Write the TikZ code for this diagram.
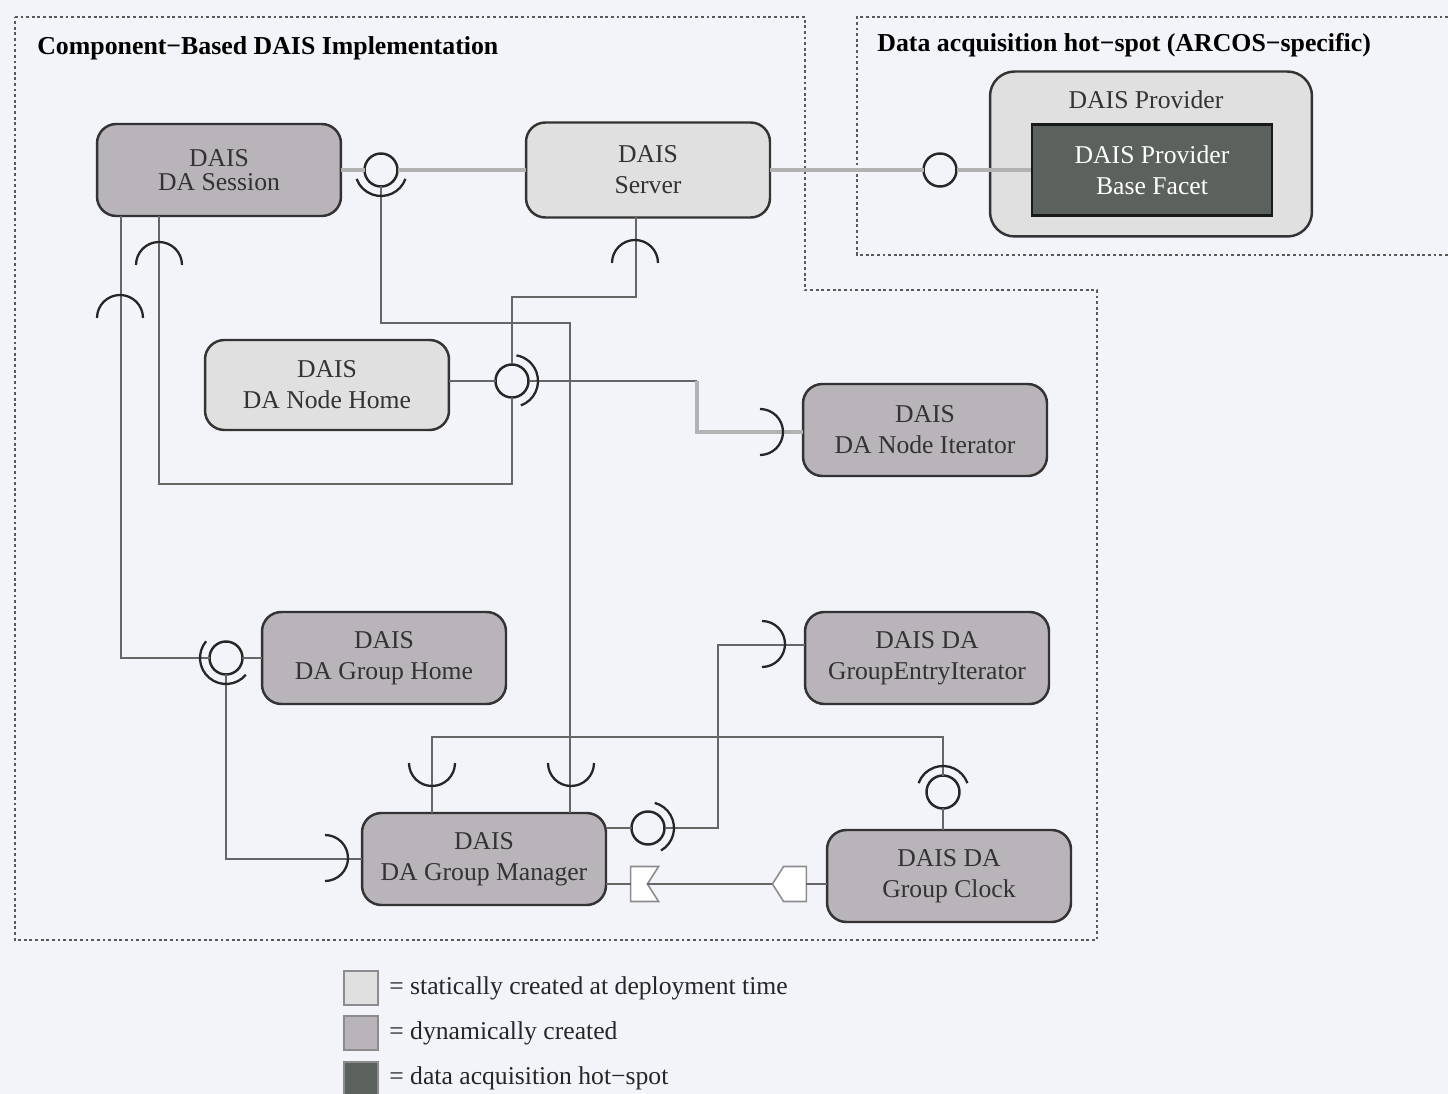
\documentclass[tikz,border=0pt]{standalone}
\usepackage{fontspec}
\setmainfont{Liberation Serif}
\usetikzlibrary{shapes.symbols}
\begin{document}
\begin{tikzpicture}[x=0.02cm,y=-0.02cm,
  comp/.style={draw=black!80,line width=1.4pt,rounded corners=11pt,minimum width=4.88cm,minimum height=1.84cm,
    align=center,inner sep=0pt,outer sep=0pt,text=black!80,font=\fontsize{14.6}{17.6}\selectfont},
  statcomp/.style={comp,fill=kLight},
  dyncomp/.style={comp,fill=kMauve},
  ball/.style={circle,draw=black!85,line width=1.4pt,fill=kBack,minimum size=0.66cm,inner sep=0pt,outer sep=0pt},
  wire/.style={draw=black!60,line width=0.9pt},
  pipe/.style={draw=kPipe,line width=2.2pt},
  sock/.style={draw=black!85,line width=1.3pt},
  evport/.style={signal,draw=black!45,line width=0.9pt,fill=white,minimum height=0.7cm,inner sep=0pt,outer sep=0pt,signal pointer angle=115},
  region/.style={draw=black!65,line width=0.9pt,dash pattern=on 1.6pt off 1.6pt},
  title/.style={anchor=west,inner sep=0pt,font=\bfseries\fontsize{14.7}{16}\selectfont},
  legbox/.style={draw=black!45,line width=1.2pt,minimum size=0.68cm,inner sep=0pt},
  legtext/.style={anchor=west,inner sep=0pt,text=black!85,font=\fontsize{14.6}{16}\selectfont}]
  % colors
  \definecolor{kBack}{HTML}{F3F4F9}
  \definecolor{kLight}{HTML}{E0E0E0}
  \definecolor{kMauve}{HTML}{B9B4B9}
  \definecolor{kHot}{HTML}{5B615C}
  \definecolor{kPipe}{HTML}{B2B2B2}
  \fill[kBack] (0,0) rectangle (1448,1094);
  \useasboundingbox (0,0) rectangle (1448,1094);

  % regions
  \draw[region] (15,17) -- (805,17) -- (805,290) -- (1097,290) -- (1097,940) -- (15,940) -- cycle;
  \draw[region] (1448,17) -- (857,17) -- (857,255) -- (1448,255);
  \node[title] (implTitle) at (37,48) {Component−Based DAIS Implementation};
  \node[title] (hotTitle) at (877,45) {Data acquisition hot−spot (ARCOS−specific)};

  % hot-spot
  \node[statcomp,minimum width=6.44cm,minimum height=3.3cm,rounded corners=14pt] (provider) at (1151,154) {};
  \node[text=black!80,font=\fontsize{14.6}{16}\selectfont] (provLabel) at (1146,100) {DAIS Provider};
  \node[draw=black!90,line width=1.4pt,fill=kHot,minimum width=4.8cm,minimum height=1.82cm,align=center,
    text=white,font=\fontsize{14.6}{17.6}\selectfont] (facet) at (1152,170) {DAIS Provider\\Base Facet};

  % components
  \node[dyncomp] (sess) at (219,170) {DAIS\\[-4pt]DA Session};
  \node[statcomp,minimum height=1.9cm] (server) at (648,170) {DAIS\\Server};
  \node[statcomp,minimum height=1.8cm] (nhome) at (327,385) {DAIS\\DA Node Home};
  \node[dyncomp] (niter) at (925,430) {DAIS\\DA Node Iterator};
  \node[dyncomp] (ghome) at (384,658) {DAIS\\DA Group Home};
  \node[dyncomp] (gei) at (927,658) {DAIS DA\\GroupEntryIterator};
  \node[dyncomp] (gman) at (484,859) {DAIS\\DA Group Manager};
  \node[dyncomp] (gclock) at (949,876) {DAIS DA\\Group Clock};

  % provided interfaces
  \node[ball] (b1) at (381,170) {};
  \node[ball] (b2) at (512,381) {};
  \node[ball] (b3) at (226,658) {};
  \node[ball] (b4) at (648,828) {};
  \node[ball] (b5) at (943,792) {};
  \node[ball] (b6) at (940,170) {};

  % event ports
  \node[evport,minimum width=0.56cm,signal to=nowhere,signal from=east] (sink) at (639,884) {};
  \node[evport,minimum width=0.68cm,signal to=west] (src) at (795,884) {};

  % connectors
  \draw[pipe] (sess) -- (b1) -- (server);
  \draw[pipe] (server) -- (b6) -- (facet);
  \draw[wire] (b1) -- (381,323) -| (gman.north -| 570,0);
  \draw[wire] (sess.south -| 159,0) -- (159,484) -| (b2);
  \draw[wire] (sess.south -| 121,0) |- (b3);
  \draw[wire] (server.south -| 636,0) |- (512,297) -- (b2);
  \draw[wire] (nhome.east |- b2) -- (b2);
  \draw[wire] (b2) -- (697,381);
  \draw[pipe] (697,381) |- (niter.west |- 697,432);
  \draw[wire] (ghome) -- (b3);
  \draw[wire] (b3) |- (gman);
  \draw[wire] (gman.north -| 432,0) |- (943,737) -- (b5);
  \draw[wire] (gclock.north -| b5) -- (b5);
  \draw[wire] (gman.east |- b4) -- (b4);
  \draw[wire] (b4) -| (718,645) -- (gei.west |- 718,645);
  \draw[wire] (gman.east |- sink) -- (sink);
  \draw[wire] (sink) -- (src);
  \draw[wire] (src) -- (gclock.west |- src);

  % sockets
  \foreach \cx/\cy/\a/\b in {159/265/0/-180, 120/318/0/-180, 635/263/0/-180,
      432/763/0/180, 571/763/0/180, 325/858/-90/90, 762/644/-90/90, 760/432/-90/90} {
    \draw[sock] (\cx,\cy) ++(\a:23) arc (\a:\b:23);
  };
  % assembled sockets
  \foreach \cx/\cy/\a/\b in {381/170/20/160, 512/381/70/-80, 226/658/40/220, 648/828/60/-75, 943/792/-20/-160} {
    \draw[sock] (\cx,\cy) ++(\a:26) arc (\a:\b:26);
  };

  % legend
  \node[legbox,fill=kLight] (legStat) at (361,988) {};
  \node[legbox,fill=kMauve] (legDyn) at (361,1033) {};
  \node[legbox,fill=kHot] (legHot) at (361,1079) {};
  \node[legtext] (legStatText) at (389,988) {= statically created at deployment time};
  \node[legtext] (legDynText) at (389,1033) {= dynamically created};
  \node[legtext] (legHotText) at (389,1078) {= data acquisition hot−spot};
\end{tikzpicture}
\end{document}
